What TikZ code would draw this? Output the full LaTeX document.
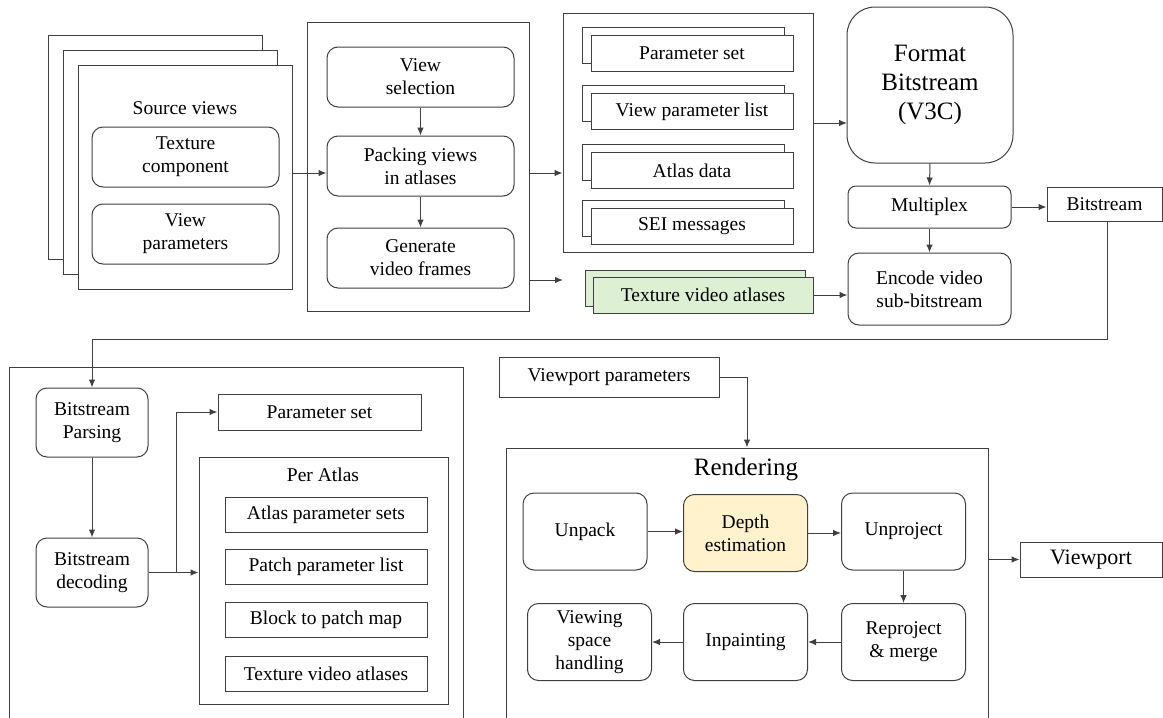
\documentclass[tikz,border=0pt]{standalone}
\usepackage{fontspec}
\setmainfont{Liberation Serif}
\usetikzlibrary{arrows.meta}
\definecolor{atlasgreen}{HTML}{DDF0D3}
\definecolor{depthyellow}{HTML}{FFF2CC}
\definecolor{linegray}{HTML}{404040}
\begin{document}
\begin{tikzpicture}[x=1pt,y=-1pt,
	every node/.style={font=\fontsize{19.5}{23}\selectfont,align=center,inner sep=0pt},
	wh/.style 2 args={minimum width=#1pt,minimum height=#2pt},
	frame/.style={draw=linegray,line width=1pt},
	box/.style={frame,fill=white},
	rbox/.style={box,rounded corners=11pt},
	arr/.style={draw=linegray,line width=1pt,-{Latex[length=8pt,width=6.5pt]}}]
		\useasboundingbox (0,0) rectangle (1163,718);
		\clip (0,0) rectangle (1163,718);
		\node[box,wh={214}{224}] (srcback) at (155,147) {};
		\node[box,wh={214}{224}] (srcmid) at (170,162) {};
		\node[box,wh={214}{224}] (srcfront) at (185,177) {};
		\node (srctitle) at (185,108) {Source views};
		\node[rbox,wh={187}{60}] (texcomp) at (185.5,157) {Texture\\component};
		\node[rbox,wh={187}{60}] (viewparams) at (185.5,234) {View\\parameters};
		\node[frame,wh={222}{289}] (encpanel) at (418,166.5) {};
		\node[rbox,wh={187}{60}] (viewsel) at (420.5,77) {View\\selection};
		\node[rbox,wh={187}{60}] (packing) at (420.5,166) {Packing views\\in atlases};
		\node[rbox,wh={187}{60}] (genframes) at (420.5,258) {Generate\\video frames};
		\node[frame,wh={250}{239}] (metapanel) at (688,132.5) {};
		\node[box,wh={202}{36}] (psetback) at (683,45) {};
		\node[box,wh={202}{36}] (pset) at (692,53) {Parameter set};
		\node[box,wh={202}{36}] (vplistback) at (683,103.5) {};
		\node[box,wh={202}{36}] (vplist) at (692,111.5) {View parameter list};
		\node[box,wh={202}{36}] (atlasdataback) at (683,162.5) {};
		\node[box,wh={202}{36}] (atlasdata) at (692,170.5) {Atlas data};
		\node[box,wh={202}{36}] (seiback) at (683,218) {};
		\node[box,wh={202}{36}] (sei) at (692,226) {SEI messages};
		\node[box,fill=atlasgreen,wh={220}{36}] (atlasback) at (695,288) {};
		\node[box,fill=atlasgreen,wh={220}{36}] (atlasfront) at (703,295) {Texture video atlases};
		\node[rbox,rounded corners=28pt,wh={166}{156},font=\fontsize{25}{29}\selectfont] (format) at (930,85) {Format\\Bitstream\\(V3C)};
		\node[rbox,rounded corners=8pt,wh={163}{42}] (multiplex) at (929.5,207) {Multiplex};
		\node[box,wh={115}{34}] (bitstream) at (1104.5,204) {Bitstream};
		\node[rbox,wh={163}{72}] (encode) at (929.5,289) {Encode video\\sub-bitstream};
		\coordinate (pkin) at ([yshift=-7pt]packing.west);
		\coordinate (gvin) at (563,280);
		\coordinate (fmtin) at (847,123);
		\draw[arr] (srcfront.east |- pkin) -- (pkin);
		\draw[arr] (viewsel.south) -- (packing.north);
		\draw[arr] (packing.south) -- (genframes.north);
		\draw[arr] (encpanel.east |- pkin) -- (metapanel.west |- pkin);
		\draw[arr] (encpanel.east |- gvin) -- (gvin);
		\draw[arr] (metapanel.east |- fmtin) -- (fmtin);
		\draw[arr] (format.south) -- (multiplex.north);
		\draw[arr] (multiplex.east) -- (bitstream.west |- multiplex.east);
		\draw[arr] (multiplex.south) -- (encode.north);
		\draw[arr] (atlasfront.east) -- (encode.west |- atlasfront.east);
		\node[frame,wh={454}{363}] (decpanel) at (236,548.5) {};
		\node[rbox,wh={112}{69}] (parsing) at (92,422.5) {Bitstream\\Parsing};
		\node[rbox,wh={112}{69}] (decoding) at (92,572.5) {Bitstream\\decoding};
		\node[box,wh={203}{36}] (decpset) at (319.5,412) {Parameter set};
		\node[frame,wh={249}{247}] (peratlas) at (323.5,580.5) {};
		\node (peratlastitle) at (323,475) {Per Atlas};
		\node[box,wh={202}{35}] (aps) at (326,514.5) {Atlas parameter sets};
		\node[box,wh={202}{35}] (ppl) at (326,567) {Patch parameter list};
		\node[box,wh={202}{35}] (btpm) at (326,619.5) {Block to patch map};
		\node[box,wh={202}{35}] (tva) at (326,673.5) {Texture video atlases};
		\draw[arr] ([xshift=2.5pt]bitstream.south) -- ++(0,118) -| (parsing.north);
		\draw[arr] (parsing.south) -- (decoding.north);
		\draw[arr] (decoding.east) -- (peratlas.west |- decoding.east);
		\draw[arr] (decoding.east) -- ++(28,0) |- (decpset.west);
		\node[box,wh={220}{40}] (vpparams) at (609,377) {Viewport parameters};
		\node[frame,wh={482}{282}] (rendering) at (747,589) {};
		\node[font=\fontsize{25}{29}\selectfont] (rendtitle) at (746,470) {Rendering};
		\node[rbox,wh={124}{77}] (unpack) at (585,531.5) {Unpack};
		\node[rbox,fill=depthyellow,wh={124}{77}] (depth) at (745.5,533) {Depth\\estimation};
		\node[rbox,wh={124}{77}] (unproject) at (903.5,531.5) {Unproject};
		\node[rbox,wh={124}{77}] (viewing) at (589.5,642) {Viewing\\space\\handling};
		\node[rbox,wh={124}{77}] (inpaint) at (745.5,642) {Inpainting};
		\node[rbox,wh={124}{77}] (reproject) at (903.5,642) {Reproject\\\& merge};
		\node[box,wh={142}{35},font=\fontsize{22}{26}\selectfont] (viewport) at (1091,559.5) {Viewport};
		\draw[arr] (vpparams.east) -| (rendering.north);
		\draw[arr] (unpack.east) -- (depth.west |- unpack.east);
		\draw[arr] (depth.east) -- (unproject.west |- depth.east);
		\draw[arr] (unproject.south) -- (reproject.north);
		\draw[arr] (reproject.west) -- (inpaint.east);
		\draw[arr] (inpaint.west) -- (viewing.east);
		\draw[arr] (rendering.east |- viewport.west) -- (viewport.west);
	\end{tikzpicture}
\end{document}
